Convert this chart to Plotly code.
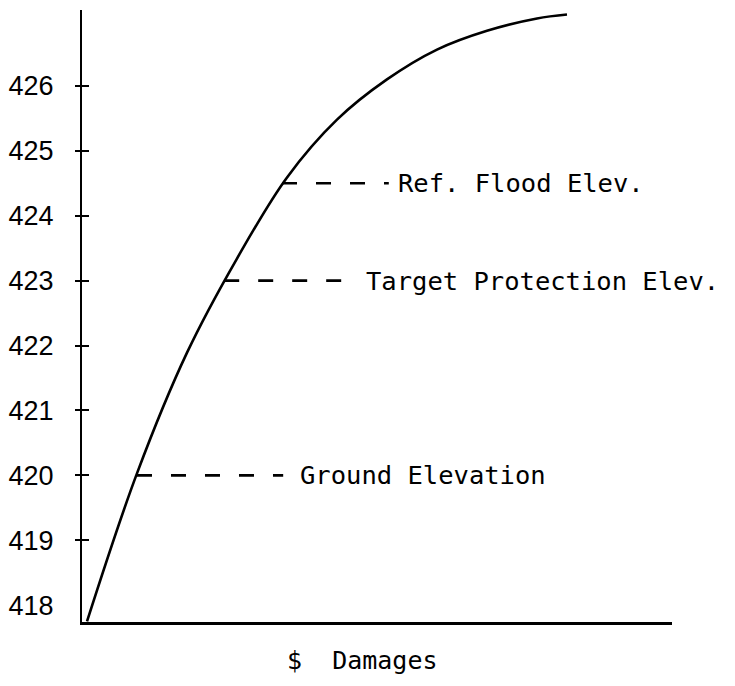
import plotly.graph_objects as go

# Stage-damage curve (x: relative $ damages, y: elevation)
damage_x = [0.85, 9.32, 17.80, 26.27, 34.75, 43.22, 51.69, 60.17, 68.64, 77.12, 82.20]
elev_y = [417.75, 420.03, 421.89, 423.34, 424.59, 425.48, 426.10, 426.56, 426.85, 427.04, 427.10]

# Reference elevations with their dashed leader lines and labels
ref_names = ["Ground Elevation", "Target Protection Elev.", "Ref. Flood Elev."]
ref_elev = [420.0, 423.0, 424.5]
dash_start = [9.32, 24.1, 33.9]
dash_end = [34.1, 46.1, 52.0]
label_x = [36.6, 47.8, 53.2]

tick_vals = [418, 419, 420, 421, 422, 423, 424, 425, 426]
tick_marks = [419, 420, 421, 422, 423, 424, 425, 426]
y_range = [417.74, 427.17]
x_range = [0, 100]
x_title = "$\u00a0\u00a0Damages"
x_title_pos = 47.5

MONO = "DejaVu Sans Mono, Liberation Mono, monospace"
NARROW = "Liberation Sans Narrow, Liberation Sans, Arial, sans-serif"

fig = go.Figure()
fig.add_trace(go.Scatter(x=damage_x, y=elev_y, mode="lines",
                         line=dict(color="black", width=2.6, shape="spline", smoothing=1.0),
                         showlegend=False, hoverinfo="skip"))

for s, e, lv in zip(dash_start, dash_end, ref_elev):
    fig.add_trace(go.Scatter(x=[s, e], y=[lv, lv], mode="lines",
                             line=dict(color="black", width=2.6, dash="15px,19px"),
                             showlegend=False, hoverinfo="skip"))

for name, lx, lv in zip(ref_names, label_x, ref_elev):
    fig.add_annotation(x=lx, y=lv, xref="x", yref="y", text=name, showarrow=False,
                       xanchor="left", yanchor="middle",
                       font=dict(family=MONO, size=25.5, color="black"))

fig.add_annotation(x=x_title_pos, y=0, xref="x", yref="paper", yshift=-38, text=x_title,
                   showarrow=False, xanchor="center", yanchor="middle",
                   font=dict(family=MONO, size=25, color="black"))

fig.update_layout(
    width=735, height=686,
    margin=dict(l=74, r=71, t=2, b=71.5, autoexpand=False),
    paper_bgcolor="white", plot_bgcolor="white",
    showlegend=False,
    xaxis=dict(range=x_range, showgrid=False, zeroline=False, showticklabels=False, ticks="",
               showline=True, linecolor="black", linewidth=3, automargin=False),
    yaxis=dict(range=y_range, tickvals=tick_vals, ticktext=[str(v) for v in tick_vals], ticks="",
               showgrid=False, zeroline=False, automargin=False,
               showline=True, linecolor="black", linewidth=2, ticklabelstandoff=21,
               tickfont=dict(family=NARROW, size=27, color="black")),
    yaxis2=dict(range=y_range, overlaying="y", side="left", tickvals=tick_marks, ticks="outside",
                ticklen=6, tickwidth=2, tickcolor="black", automargin=False,
                showticklabels=False, showgrid=False, zeroline=False, showline=False),
    yaxis3=dict(range=y_range, overlaying="y", side="left", tickvals=tick_marks, ticks="inside",
                ticklen=7, tickwidth=2, tickcolor="black", automargin=False,
                showticklabels=False, showgrid=False, zeroline=False, showline=False),
)
fig.add_trace(go.Scatter(x=[None], y=[None], yaxis="y2", showlegend=False, hoverinfo="skip"))
fig.add_trace(go.Scatter(x=[None], y=[None], yaxis="y3", showlegend=False, hoverinfo="skip"))

fig.write_html("out.html")
